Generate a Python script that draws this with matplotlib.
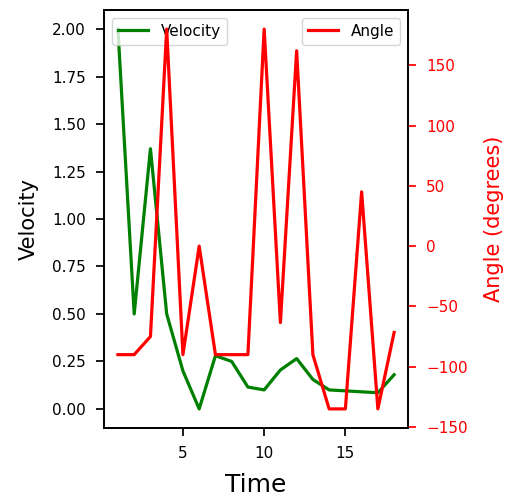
import matplotlib
matplotlib.use("Agg")
import matplotlib.pyplot as plt

# data
time = list(range(1, 19))
velocity = [2.0, 0.50, 1.37, 0.50, 0.20, 0.0, 0.28, 0.25, 0.115, 0.10,
            0.205, 0.265, 0.155, 0.10, 0.095, 0.09, 0.085, 0.18]
angle = [-90, -90, -75, 180, -90, 0, -90, -90, -90, 180,
         -63.4, 162, -90, -135, -135, 45, -135, -71.6]

# notebook-like sizes
plt.rcParams.update({
    "axes.linewidth": 1.25,
    "xtick.major.width": 1.25,
    "ytick.major.width": 1.25,
    "xtick.major.size": 6,
    "ytick.major.size": 6,
    "xtick.major.pad": 7,
    "ytick.major.pad": 7,
    "xtick.labelsize": 11,
    "ytick.labelsize": 11,
    "legend.fontsize": 11,
})

fig, ax = plt.subplots(figsize=(5.08, 5.04), dpi=100)
fig.subplots_adjust(left=0.205, right=0.803, top=0.980, bottom=0.151)

ax.plot(time, velocity, color="green", linewidth=2.3, label="Velocity")
ax.set_xlabel("Time", fontsize=18, labelpad=9)
ax.set_ylabel("Velocity", fontsize=15, labelpad=10)
ax.legend(loc="upper left")

# second axis for angle
ax2 = ax.twinx()
ax2.plot(time, angle, color="red", linewidth=2.3, label="Angle")
ax2.set_ylabel("Angle (degrees)", color="red", fontsize=15, labelpad=12)
ax2.tick_params(axis="y", colors="red")
ax2.legend(loc="upper right")

plt.savefig("out.png")
